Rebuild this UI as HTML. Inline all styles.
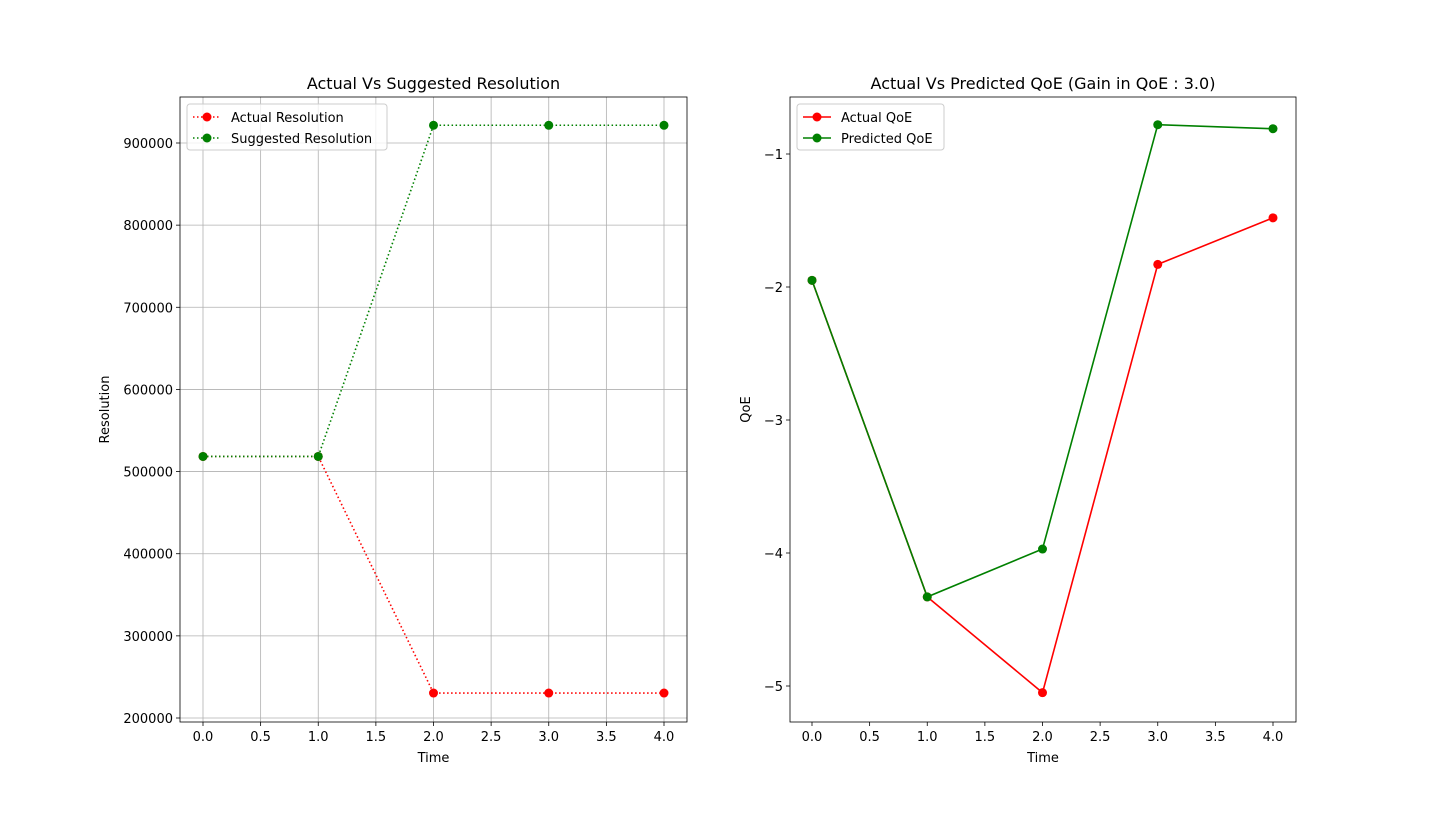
<!DOCTYPE html>
<html><head><meta charset="utf-8"><style>
body{margin:0;background:#fff;}
svg text{font-family:"DejaVu Sans","Liberation Sans",sans-serif;fill:#000;}
</style></head><body>
<svg id="fig" width="1440" height="811" xmlns="http://www.w3.org/2000/svg"></svg>
<script>
const times=[0,1,2,3,4];
const actualRes=[518400,518400,230400,230400,230400];
const suggestedRes=[518400,518400,921600,921600,921600];
const resTicks=[200000,300000,400000,500000,600000,700000,800000,900000];
const actualQoE=[-1.95,-4.33,-5.05,-1.83,-1.48];
const predictedQoE=[-1.95,-4.33,-3.97,-0.78,-0.81];
const qoeTicks=[-5,-4,-3,-2,-1];
const xTicks=[0,0.5,1,1.5,2,2.5,3,3.5,4];

const svg=document.getElementById('fig');
const NS='http://www.w3.org/2000/svg';
function mk(tag,attrs,parent){const e=document.createElementNS(NS,tag);for(const k in attrs)e.setAttribute(k,attrs[k]);(parent||svg).appendChild(e);return e;}
function txt(s,attrs,parent){const e=mk('text',attrs,parent);e.textContent=s;return e;}

function panel(o){
  const g=mk('g',{});
  
  
  const X=v=>o.x0+(v-0)*(o.x4-o.x0)/4;
  const Y=v=>o.ya+(v-o.va)*(o.yb-o.ya)/(o.vb-o.va);
  // grid
  if(o.grid){
    xTicks.forEach(t=>{const l=mk('line',{x1:X(t),x2:X(t),y1:o.top,y2:o.bot,stroke:'#b0b0b0','stroke-width':0.8},g);});
    o.yTicks.forEach(t=>{const l=mk('line',{x1:o.left,x2:o.right,y1:Y(t),y2:Y(t),stroke:'#b0b0b0','stroke-width':0.8},g);});
  }
  // ticks
  xTicks.forEach(t=>{mk('line',{x1:X(t),x2:X(t),y1:o.bot,y2:o.bot+4,stroke:'#000','stroke-width':0.8},g);
    const e=txt(t.toFixed(1),{x:X(t),y:o.bot+19,'font-size':13,'text-anchor':'middle'},g);});
  o.yTicks.forEach(t=>{mk('line',{x1:o.left-4,x2:o.left,y1:Y(t),y2:Y(t),stroke:'#000','stroke-width':0.8},g);
    const e=txt(o.fmt(t),{x:o.left-7,y:Y(t)+5,'font-size':13,'text-anchor':'end'},g);});
  // series
  o.series.forEach(s=>{
    const pts=times.map((t,i)=>X(t)+','+Y(s.vals[i])).join(' ');
    const pl=mk('polyline',{points:pts,fill:'none',stroke:s.color,'stroke-width':1.6,'stroke-dasharray':s.dash||'none'},g);
    
    times.forEach((t,i)=>{const c=mk('circle',{cx:X(t),cy:Y(s.vals[i]),r:4.5,fill:s.color},g);});
  });
  // frame
  const f=mk('rect',{x:o.left,y:o.top,width:o.right-o.left,height:o.bot-o.top,fill:'none',stroke:'#000','stroke-width':0.8},g);
  
  const ti=txt(o.title,{x:(o.left+o.right)/2,y:o.top-8,'font-size':16,'text-anchor':'middle'},g);
  const xl=txt('Time',{x:(o.left+o.right)/2,y:o.bot+40,'font-size':13,'text-anchor':'middle'},g);
  const yl=txt(o.ylabel,{x:0,y:0,'font-size':13,'text-anchor':'middle',transform:`translate(${o.ylx},${(o.top+o.bot)/2}) rotate(-90)`},g);
  // legend
  const lg=mk('g',{},g);
  mk('rect',{x:o.left+7,y:o.top+7,width:o.legW,height:46,rx:3,fill:'#fff','fill-opacity':0.8,stroke:'#ccc'},lg);
  o.series.forEach((s,i)=>{const y=o.top+20+i*21;
    const en=mk('g',{},lg);
    mk('line',{x1:o.left+13,x2:o.left+41,y1:y,y2:y,stroke:s.color,'stroke-width':1.6,'stroke-dasharray':s.dash||'none'},en);
    mk('circle',{cx:o.left+27,cy:y,r:4.5,fill:s.color},en);
    txt(s.label,{x:o.left+51,y:y+5,'font-size':13},en);
  });
}
panel({name:'resolution-chart',left:180,right:687,top:97,bot:722,x0:203,x4:664,ya:718,va:200000,yb:143,vb:900000,grid:true,
  yTicks:resTicks,fmt:t=>String(t),title:'Actual Vs Suggested Resolution',ylabel:'Resolution',ylx:109,legW:200,
  series:[{id:'actual-resolution',label:'Actual Resolution',vals:actualRes,color:'#ff0000',dash:'1.5,2.5'},
          {id:'suggested-resolution',label:'Suggested Resolution',vals:suggestedRes,color:'#008000',dash:'1.5,2.5'}]});
panel({name:'qoe-chart',left:790,right:1296,top:97,bot:722,x0:812,x4:1273,ya:686,va:-5,yb:154,vb:-1,grid:false,
  yTicks:qoeTicks,fmt:t=>'\u2212'+Math.abs(t),title:'Actual Vs Predicted QoE (Gain in QoE : 3.0)',ylabel:'QoE',ylx:750,legW:147,
  series:[{id:'actual-qoe',label:'Actual QoE',vals:actualQoE,color:'#ff0000'},
          {id:'predicted-qoe',label:'Predicted QoE',vals:predictedQoE,color:'#008000'}]});
</script>
</body></html>
